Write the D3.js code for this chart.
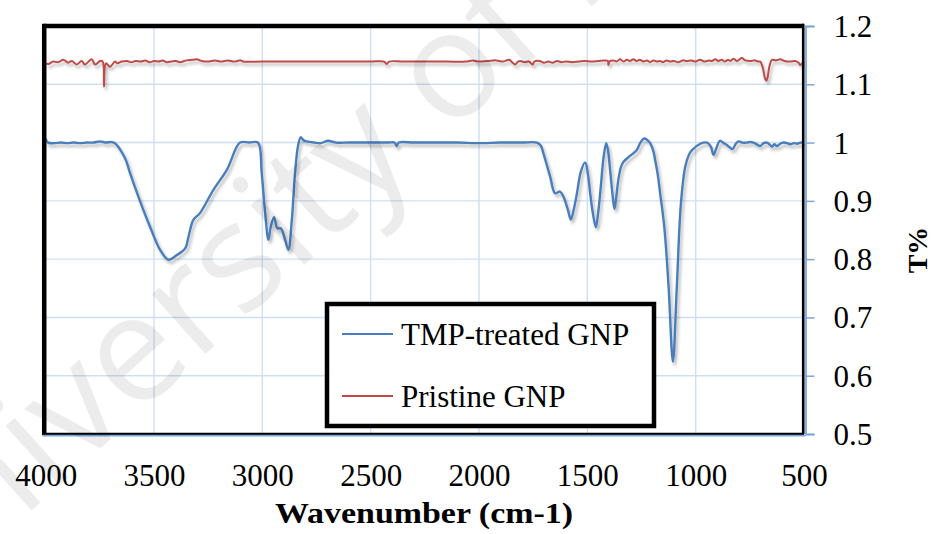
<!DOCTYPE html>
<html><head><meta charset="utf-8">
<script src="https://cdn.jsdelivr.net/npm/d3@7"></script>
<style>html,body{margin:0;padding:0;background:#fff;}svg{display:block;}</style>
</head><body>
<svg id="c" width="932" height="534"></svg>
<script>
// ---- data ----
const xTicks = [4000, 3500, 3000, 2500, 2000, 1500, 1000, 500];
const yTicks = [0.5, 0.6, 0.7, 0.8, 0.9, 1.0, 1.1, 1.2];
const seriesNames = ["TMP-treated GNP", "Pristine GNP"];
const tmpW = [4000,3990,3960,3930,3900,3870,3840,3810,3780,3750,3720,3700,3680,3660,3630,3611,3565,3519,3472,3434,3395,3357,3340,3319,3288,3226,3164,3103,3060,3020,3003,2987,2972,2961,2946,2931,2915,2895,2880,2864,2849,2835,2823,2810,2795,2760,2730,2697,2660,2600,2500,2420,2390,2380,2370,2300,2200,2100,2000,1900,1800,1733,1715,1703,1672,1649,1626,1610,1590,1576,1560,1548,1530,1510,1497,1487,1475,1461,1450,1438,1425,1413,1404,1395,1385,1375,1367,1357,1345,1333,1310,1287,1272,1255,1238,1225,1210,1195,1187,1175,1164,1145,1125,1105,1087,1068,1048,1030,1017,979,948,930,918,905,888,870,856,830,815,802,785,764,748,733,718,702,686,671,660,648,637,625,610,594,578,563,547,532,516,501];
const tmpT = [1.007,1.0,0.999,1.0,0.999,1.0,0.999,1.0,1.0,1.002,1.0,1.001,0.999,0.99,0.97,0.948,0.90,0.856,0.816,0.799,0.807,0.818,0.84,0.867,0.879,0.919,0.953,1.0,1.0,1.0,0.948,0.879,0.833,0.856,0.872,0.853,0.853,0.833,0.816,0.867,0.948,0.995,1.009,1.004,1.002,1.0,0.999,1.003,1.0,1.0,1.0,1.0,1.0,0.994,1.0,1.0,1.0,1.0,0.999,1.0,1.0,1.0,0.995,0.982,0.942,0.913,0.916,0.907,0.885,0.868,0.89,0.913,0.95,0.966,0.945,0.913,0.88,0.855,0.88,0.924,0.975,0.999,0.985,0.953,0.915,0.886,0.905,0.936,0.958,0.967,0.975,0.982,0.987,1.0,1.007,1.005,0.999,0.985,0.970,0.945,0.913,0.856,0.753,0.624,0.753,0.896,0.959,0.980,0.987,0.998,1.0,0.993,0.979,0.99,1.003,0.999,0.996,0.989,0.998,1.002,1.0,1.0,1.001,1.0,0.997,0.994,0.999,1.0,0.997,0.993,0.997,0.994,0.998,1.0,0.999,0.997,0.999,0.998,1.0,1.0];
const pristW = [4000,3988,3965,3942,3919,3896,3880,3857,3834,3819,3788,3772,3749,3737,3731,3722,3703,3680,3669,3649,3625,3605,3585,3560,3540,3520,3500,3480,3460,3440,3420,3400,3380,3350,3320,3303,3280,3250,3220,3190,3160,3130,3100,3089,3000,2900,2800,2700,2600,2500,2440,2426,2415,2350,2250,2150,2060,2030,2000,1960,1920,1890,1860,1845,1833,1820,1810,1790,1770,1752,1745,1720,1700,1680,1660,1640,1620,1600,1570,1540,1510,1480,1450,1420,1405,1403,1398,1380,1365,1349,1333,1318,1303,1288,1272,1258,1240,1225,1210,1195,1180,1165,1150,1135,1120,1100,1080,1060,1040,1020,1000,980,960,940,925,910,895,880,865,850,840,826,810,800,787,770,750,725,712,702,690,680,674,668,660,648,630,610,590,563,540,525,517,508,500];
const pristT = [1.136,1.135,1.139,1.138,1.142,1.137,1.140,1.134,1.140,1.134,1.143,1.134,1.140,1.139,1.096,1.136,1.130,1.139,1.136,1.139,1.140,1.138,1.140,1.139,1.141,1.138,1.140,1.139,1.141,1.138,1.139,1.140,1.138,1.141,1.142,1.143,1.140,1.139,1.141,1.139,1.141,1.139,1.141,1.139,1.139,1.139,1.139,1.139,1.139,1.139,1.139,1.135,1.139,1.139,1.139,1.139,1.139,1.141,1.139,1.140,1.141,1.139,1.142,1.137,1.134,1.139,1.140,1.138,1.139,1.134,1.139,1.140,1.137,1.139,1.137,1.140,1.138,1.139,1.138,1.139,1.140,1.139,1.140,1.141,1.140,1.133,1.139,1.141,1.139,1.143,1.139,1.142,1.140,1.143,1.140,1.142,1.139,1.141,1.138,1.141,1.139,1.140,1.138,1.141,1.139,1.140,1.138,1.141,1.140,1.141,1.139,1.142,1.139,1.141,1.140,1.143,1.140,1.142,1.139,1.142,1.140,1.144,1.140,1.142,1.145,1.141,1.140,1.141,1.139,1.139,1.128,1.110,1.106,1.112,1.130,1.142,1.141,1.143,1.140,1.139,1.140,1.137,1.133,1.136,1.139];
const colors = ["#4a7ebb", "#be4b48"];

// ---- layout ----
const L = 45.7, R = 804, T = 26, B = 434;
const svg = d3.select("#c");
const x = d3.scaleLinear().domain([4000, 500]).range([L, R]);
const y = d3.scaleLinear().domain([0.5, 1.2]).range([B, T]);
const font = "'Liberation Serif', 'Times New Roman', serif";

const defs = svg.append("defs");
const f = defs.append("filter").attr("id","sh").attr("x","-5%").attr("y","-20%").attr("width","110%").attr("height","140%");
f.append("feDropShadow").attr("dx",2).attr("dy",3).attr("stdDeviation",1.6).attr("flood-color","#000").attr("flood-opacity",0.28);

// gridlines
svg.append("g").selectAll("line").data(xTicks).join("line")
  .attr("x1", d => x(d)).attr("x2", d => x(d)).attr("y1", T).attr("y2", B)
  .attr("stroke", "#cfdff2").attr("stroke-width", 1.4);
svg.append("g").selectAll("line").data(yTicks).join("line")
  .attr("x1", L).attr("x2", R).attr("y1", d => y(d)).attr("y2", d => y(d))
  .attr("stroke", "#cfdff2").attr("stroke-width", 1.4);

// series
const line = d3.line().curve(d3.curveCatmullRom.alpha(0.5)).x(d => x(d[0])).y(d => y(d[1]));
const series = [d3.zip(tmpW, tmpT), d3.zip(pristW, pristT)];
svg.append("g").attr("filter","url(#sh)").selectAll("path").data(series).join("path")
  .attr("d", line).attr("fill","none")
  .attr("stroke", (d,i) => colors[i]).attr("stroke-width", (d,i) => i === 0 ? 2.4 : 2.0)
  .attr("stroke-linejoin","round");

// frame
svg.append("line").attr("x1", L-1.5).attr("x2", R).attr("y1", T).attr("y2", T).attr("stroke","#000").attr("stroke-width",4.5);
svg.append("line").attr("x1", L-1.5).attr("x2", L-1.5).attr("y1", T-2.2).attr("y2", B+1).attr("stroke","#000").attr("stroke-width",4.5);
svg.append("line").attr("x1", R-0.8).attr("x2", R-0.8).attr("y1", T-2.2).attr("y2", B).attr("stroke","#000").attr("stroke-width",2.6);
svg.append("line").attr("x1", L-3.7).attr("x2", R).attr("y1", B).attr("y2", B).attr("stroke","#000").attr("stroke-width",2.6);

// right axis (blue)
const yAxis = d3.axisRight(y).tickValues(yTicks).tickSize(9).tickFormat(d => String(+d.toFixed(1)));
const ya = svg.append("g").attr("transform", `translate(${R+1.5},0)`).call(yAxis);
ya.select(".domain").attr("stroke","#7ea6dc").attr("stroke-width",1.8);
ya.selectAll(".tick line").attr("stroke","#7ea6dc").attr("stroke-width",1.5);
ya.selectAll(".tick text").attr("x", 28).attr("dy", "0.34em")
  .style("font-family", font).style("font-size", "31px").attr("fill","#000");
svg.append("line").attr("x1", L-3).attr("x2", R+1.5).attr("y1", B+1.6).attr("y2", B+1.6).attr("stroke","#7ea6dc").attr("stroke-width",1.6);

// x axis labels
const xAxis = d3.axisBottom(x).tickValues(xTicks).tickSize(0).tickFormat(d3.format("d"));
const xa = svg.append("g").attr("transform", `translate(0,${B})`).call(xAxis);
xa.select(".domain").remove();
xa.selectAll(".tick text").attr("y", 52).attr("dy", 0)
  .style("font-family", font).style("font-size", "31px").attr("fill","#000");

// axis titles
svg.append("text").attr("x", 424).attr("y", 523).attr("text-anchor","middle")
  .style("font-family", font).style("font-weight","bold").style("font-size", "30px")
  .attr("textLength", 298).attr("lengthAdjust","spacingAndGlyphs")
  .text("Wavenumber (cm-1)");
svg.append("text").attr("transform","translate(927,250) rotate(-90)").attr("text-anchor","middle")
  .style("font-family", font).style("font-weight","bold").style("font-size", "28px").text("T%");

// legend
const lg = svg.append("g");
lg.append("rect").attr("x", 327).attr("y", 304).attr("width", 327).attr("height", 122)
  .attr("fill","#fff").attr("stroke","#000").attr("stroke-width",4.5);
const items = lg.selectAll("g").data(seriesNames).join("g")
  .attr("transform", (d,i) => `translate(0,${i*62})`);
items.append("line").attr("x1", 342).attr("x2", 393).attr("y1", 334).attr("y2", 334)
  .attr("stroke", (d,i) => colors[i]).attr("stroke-width", 1.8);
items.append("text").attr("x", 401).attr("y", 345)
  .style("font-family", font).style("font-size", "31px").attr("fill","#000").text(d => d);

// watermark
svg.append("text").attr("transform","translate(-100,629) rotate(-42)")
  .style("font-family","'Open Sans', sans-serif").style("font-size","150px")
  .attr("fill","#000").attr("fill-opacity",0.075).text("University of Malaya");
</script>
</body></html>
